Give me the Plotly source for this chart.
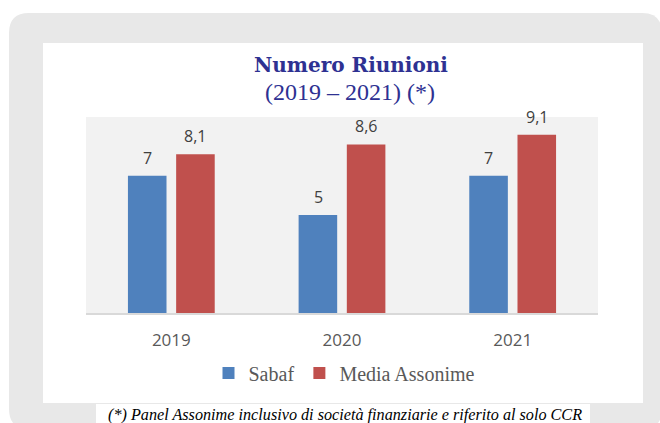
import plotly.graph_objects as go

# ---- data ----
years = ["2019", "2020", "2021"]
sabaf = [7, 5, 7]
media_assonime = [8.1, 8.6, 9.1]
series_names = ["Sabaf", "Media Assonime"]
title_text = "Numero Riunioni"
subtitle_text = "(2019 – 2021) (*)"
footnote_text = "(*) Panel Assonime inclusivo di società finanziarie e riferito al solo CCR"

# ---- geometry helpers (pixel -> paper) ----
W, H = 660, 423
L, R, T, B = 86, 62, 117, 110
PW, PH = W - L - R, H - T - B


def px(x):
    return (x - L) / PW


def py(y):
    return (H - B - y) / PH


def rrect(x0, y0, x1, y1, r):
    pts = [
        ("M", [(x0 + r, y0)]),
        ("L", [(x1 - r, y0)]),
        ("Q", [(x1, y0), (x1, y0 + r)]),
        ("L", [(x1, y1 - r)]),
        ("Q", [(x1, y1), (x1 - r, y1)]),
        ("L", [(x0 + r, y1)]),
        ("Q", [(x0, y1), (x0, y1 - r)]),
        ("L", [(x0, y0 + r)]),
        ("Q", [(x0, y0), (x0 + r, y0)]),
    ]
    s = ""
    for cmd, ps in pts:
        s += cmd + " " + " ".join(f"{px(a):.5f},{py(b):.5f}" for a, b in ps) + " "
    return s + "Z"


def fmt(v):
    return f"{v:g}".replace(".", ",")


BLUE = "#4F81BD"
RED = "#C0504D"

fig = go.Figure()
fig.add_trace(go.Bar(x=years, y=sabaf, name=series_names[0], marker=dict(color=BLUE, line=dict(width=0)),
                     hoverinfo="x+y"))
fig.add_trace(go.Bar(x=years, y=media_assonime, name=series_names[1], marker=dict(color=RED, line=dict(width=0)),
                     hoverinfo="x+y"))

shapes = [
    dict(type="path", xref="paper", yref="paper", path=rrect(9, 13, 662, 429, 20),
         fillcolor="#E8E8E8", line=dict(width=0), layer="below"),
    dict(type="rect", xref="paper", yref="paper", x0=px(43), x1=px(643), y0=py(403), y1=py(43),
         fillcolor="#FFFFFF", line=dict(width=0), layer="below"),
    dict(type="rect", xref="paper", yref="paper", x0=0, x1=1, y0=0, y1=1,
         fillcolor="#F2F2F2", line=dict(width=0), layer="below"),
    dict(type="rect", xref="paper", yref="paper", x0=px(96), x1=px(590), y0=py(425), y1=py(404),
         fillcolor="#FFFFFF", line=dict(width=0), layer="below"),
]

annotations = [
    dict(text="<b>" + title_text + "</b>", xref="paper", yref="paper", x=px(351), y=py(65),
         xanchor="center", yanchor="middle", showarrow=False,
         font=dict(family="DejaVu Serif", size=20, color="#2E3192")),
    dict(text=subtitle_text, xref="paper", yref="paper", x=px(350), y=py(92),
         xanchor="center", yanchor="middle", showarrow=False,
         font=dict(family="Liberation Serif", size=24, color="#2E3192")),
    dict(text="<i>" + footnote_text + "</i>", xref="paper", yref="paper", x=px(345), y=py(414.5),
         xanchor="center", yanchor="middle", showarrow=False,
         font=dict(family="Liberation Serif", size=16.2, color="#000000")),
]

# data labels from the series values (x given as category index)
for vals, shift in ((sabaf, -24), (media_assonime, 24)):
    for i, v in enumerate(vals):
        annotations.append(dict(text=fmt(v), x=i, y=v, xref="x", yref="y", xshift=shift, yshift=18,
                                xanchor="center", yanchor="middle", showarrow=False,
                                font=dict(family="Open Sans", size=16, color="#404040")))

fig.update_layout(
    width=W, height=H,
    margin=dict(l=L, r=R, t=T, b=B, pad=0),
    paper_bgcolor="#FFFFFF",
    plot_bgcolor="rgba(0,0,0,0)",
    barmode="group",
    bargap=0.435,
    bargroupgap=0.2,
    shapes=shapes,
    annotations=annotations,
    showlegend=True,
    legend=dict(orientation="h", x=px(344), y=py(373), xanchor="center", yanchor="middle",
                font=dict(family="Liberation Serif", size=20, color="#595959"),
                bgcolor="rgba(0,0,0,0)", itemwidth=30, tracegroupgap=0),
    xaxis=dict(type="category", range=[-0.5, len(years) - 0.5], showline=True, linecolor="#D9D9D9",
               linewidth=2, ticks="", showgrid=False,
               tickfont=dict(family="Open Sans", size=17, color="#595959"), ticklabelstandoff=11,
               fixedrange=True),
    yaxis=dict(range=[0, 10], visible=False, showgrid=False, zeroline=False, fixedrange=True),
    font=dict(family="Open Sans"),
)

fig.write_html("out.html", config={"displayModeBar": False},
               post_script="document.body.style.margin='0px';document.body.style.overflow='hidden';")
